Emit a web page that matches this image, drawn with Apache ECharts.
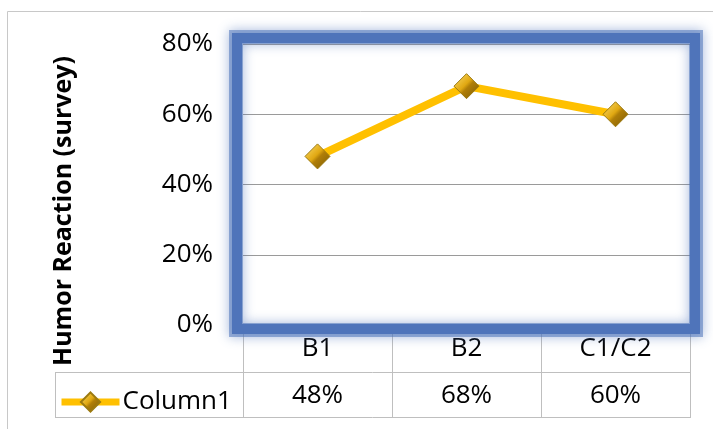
<!DOCTYPE html>
<html>
<head>
<meta charset="utf-8">
<script src="https://cdn.jsdelivr.net/npm/echarts@6/dist/echarts.min.js"></script>
<style>
html,body{margin:0;padding:0;background:#fff;}
#chart{width:713px;height:429px;}
</style>
</head>
<body>
<div id="chart"></div>
<script>
const categories = ['B1', 'B2', 'C1/C2'];
const seriesName = 'Column1';
const values = [0.48, 0.68, 0.60];
const yMin = 0, yMax = 0.8, yInterval = 0.2;
const yTitle = 'Humor Reaction (survey)';

const pct = v => Math.round(v * 100) + '%';
const FONT = "'Open Sans', 'Noto Sans', sans-serif";
const GRAY = '#BFBFBF';

const chart = echarts.init(document.getElementById('chart'), null, {renderer: 'canvas'});
chart.setOption({
  backgroundColor: '#fff',
  animation: false,
  grid: {left: 243, right: 23, top: 44, bottom: 104, containLabel: false},
  xAxis: [{
    type: 'category',
    data: categories,
    position: 'bottom',
    boundaryGap: true,
    axisLine: {show: true, lineStyle: {color: '#A6A6A6', width: 1}},
    axisTick: {show: true, length: 93, lineStyle: {color: GRAY, width: 1}},
    axisLabel: {fontFamily: FONT, fontSize: 26, color: '#000', margin: 11}
  }, {
    type: 'category',
    data: values.map(pct),
    position: 'bottom',
    boundaryGap: true,
    axisLine: {show: false},
    axisTick: {show: false},
    axisLabel: {fontFamily: FONT, fontSize: 26, color: '#000', margin: 58}
  }],
  yAxis: {
    type: 'value',
    min: yMin, max: yMax, interval: yInterval,
    axisLine: {show: false},
    axisTick: {show: false},
    splitLine: {show: true, lineStyle: {color: '#9A9A9A', width: 1}},
    axisLabel: {fontFamily: FONT, fontSize: 26, color: '#000', margin: 30, formatter: pct}
  },
  legend: {
    data: [seriesName],
    left: 53, top: 384,
    itemWidth: 58, itemHeight: 24,
    itemGap: 4,
    lineStyle: {width: 7, color: '#FFC000'},
    textStyle: {fontFamily: FONT, fontSize: 26, color: '#000', padding: [0, 0, 0, -2]}
  },
  series: [{
    name: seriesName,
    type: 'line',
    xAxisIndex: 0,
    data: values,
    lineStyle: {color: '#FFC000', width: 8},
    symbol: 'diamond',
    symbolSize: [25, 25],
    showAllSymbol: true,
    itemStyle: {
      color: new echarts.graphic.LinearGradient(0, 0, 1, 1, [
        {offset: 0, color: '#FFE070'},
        {offset: 0.45, color: '#E0A812'},
        {offset: 0.55, color: '#B07E08'},
        {offset: 1, color: '#7A5A05'}
      ]),
      borderColor: '#9C7A10',
      borderWidth: 1
    },
    z: 5
  }],
  graphic: [
    {type: 'rect', z: -1, silent: true,
     shape: {x: 7.5, y: 11.5, width: 720, height: 430},
     style: {fill: null, stroke: '#C8C8C8', lineWidth: 1}},
    {type: 'line', z: 1, silent: true,
     shape: {x1: 55, y1: 372.5, x2: 690, y2: 372.5},
     style: {stroke: GRAY, lineWidth: 1}},
    {type: 'line', z: 1, silent: true,
     shape: {x1: 55, y1: 417.5, x2: 690, y2: 417.5},
     style: {stroke: GRAY, lineWidth: 1}},
    {type: 'line', z: 1, silent: true,
     shape: {x1: 55.5, y1: 372.5, x2: 55.5, y2: 417.5},
     style: {stroke: GRAY, lineWidth: 1}},
    {type: 'rect', z: 10, silent: true,
     shape: {x: 236, y: 37, width: 460, height: 293},
     style: {fill: null, stroke: 'rgba(79,116,186,0.55)', lineWidth: 14,
             shadowBlur: 12, shadowColor: 'rgba(79,116,186,0.9)'}},
    {type: 'rect', z: 11, silent: true,
     shape: {x: 237, y: 38, width: 458, height: 291},
     style: {fill: null, stroke: '#4F74BA', lineWidth: 10}},
    {type: 'text', z: 10, silent: true,
     x: 64, y: 211, rotation: Math.PI / 2,
     style: {text: yTitle, fontFamily: FONT, fontWeight: 'bold', fontSize: 25,
             fill: '#000', align: 'center', verticalAlign: 'middle'}}
  ]
});
</script>
</body>
</html>
